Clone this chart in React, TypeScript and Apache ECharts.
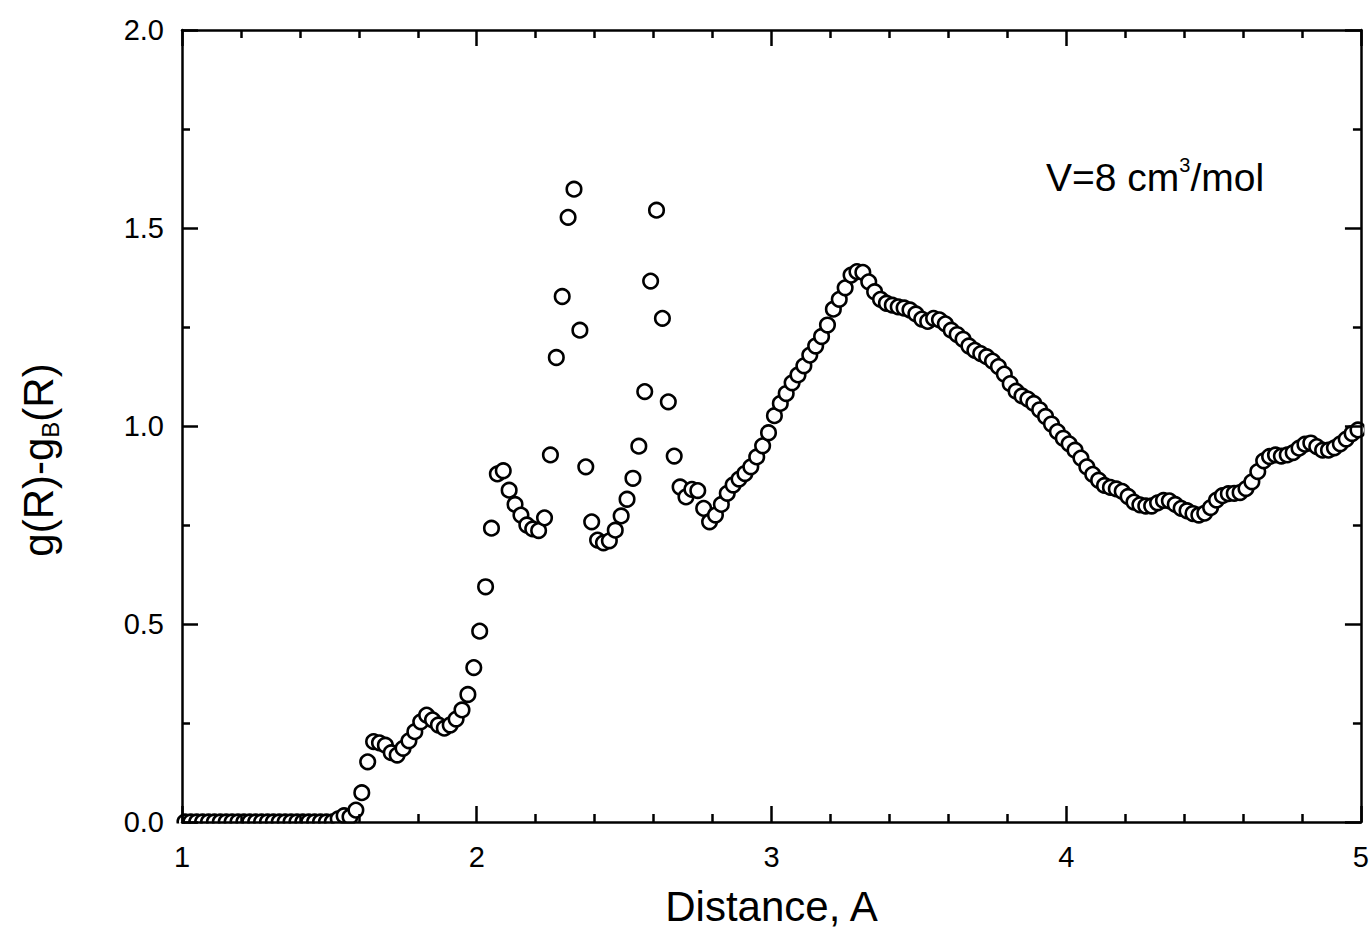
import React, { useEffect, useRef } from 'react';
import * as echarts from 'echarts';

// Distance R (Angstrom) sampled by the reference data
const distance = [
  1.01, 1.03, 1.05, 1.07, 1.09, 1.11, 1.13, 1.15, 1.17, 1.19,
  1.21, 1.23, 1.25, 1.27, 1.29, 1.31, 1.33, 1.35, 1.37, 1.39,
  1.41, 1.43, 1.45, 1.47, 1.49, 1.51, 1.53, 1.55, 1.57, 1.59,
  1.61, 1.63, 1.65, 1.67, 1.69, 1.71, 1.73, 1.75, 1.77, 1.79,
  1.81, 1.83, 1.85, 1.87, 1.89, 1.91, 1.93, 1.95, 1.97, 1.99,
  2.01, 2.03, 2.05, 2.07, 2.09, 2.11, 2.13, 2.15, 2.17, 2.19,
  2.21, 2.23, 2.25, 2.27, 2.29, 2.31, 2.33, 2.35, 2.37, 2.39,
  2.41, 2.43, 2.45, 2.47, 2.49, 2.51, 2.53, 2.55, 2.57, 2.59,
  2.61, 2.63, 2.65, 2.67, 2.69, 2.71, 2.73, 2.75, 2.77, 2.79,
  2.81, 2.83, 2.85, 2.87, 2.89, 2.91, 2.93, 2.95, 2.97, 2.99,
  3.01, 3.03, 3.05, 3.07, 3.09, 3.11, 3.13, 3.15, 3.17, 3.19,
  3.21, 3.23, 3.25, 3.27, 3.29, 3.31, 3.33, 3.35, 3.37, 3.39,
  3.41, 3.43, 3.45, 3.47, 3.49, 3.51, 3.53, 3.55, 3.57, 3.59,
  3.61, 3.63, 3.65, 3.67, 3.69, 3.71, 3.73, 3.75, 3.77, 3.79,
  3.81, 3.83, 3.85, 3.87, 3.89, 3.91, 3.93, 3.95, 3.97, 3.99,
  4.01, 4.03, 4.05, 4.07, 4.09, 4.11, 4.13, 4.15, 4.17, 4.19,
  4.21, 4.23, 4.25, 4.27, 4.29, 4.31, 4.33, 4.35, 4.37, 4.39,
  4.41, 4.43, 4.45, 4.47, 4.49, 4.51, 4.53, 4.55, 4.57, 4.59,
  4.61, 4.63, 4.65, 4.67, 4.69, 4.71, 4.73, 4.75, 4.77, 4.79,
  4.81, 4.83, 4.85, 4.87, 4.89, 4.91, 4.93, 4.95, 4.97, 4.99,
];

// g(R) - g_B(R)
const gDiff = [
  0, 0, 0, 0, 0, 0, 0, 0, 0, 0,
  0, 0, 0, 0, 0, 0, 0, 0, 0, 0,
  0, 0, 0, 0, 0, 0, 0.008, 0.016, 0.013, 0.03,
  0.074, 0.152, 0.203, 0.2, 0.194, 0.175, 0.169, 0.186, 0.205, 0.228,
  0.253, 0.27, 0.258, 0.245, 0.237, 0.245, 0.26, 0.283, 0.322, 0.39,
  0.482, 0.594, 0.742, 0.879, 0.887, 0.838, 0.802, 0.775, 0.75, 0.74,
  0.736, 0.768, 0.927, 1.173, 1.327, 1.527, 1.598, 1.242, 0.897, 0.758,
  0.712, 0.705, 0.71, 0.737, 0.773, 0.815, 0.868, 0.949, 1.087, 1.366,
  1.545, 1.272, 1.061, 0.924, 0.846, 0.821, 0.84, 0.837, 0.792, 0.758,
  0.775, 0.802, 0.83, 0.851, 0.866, 0.88, 0.897, 0.922, 0.95, 0.983,
  1.026, 1.057, 1.082, 1.109, 1.129, 1.152, 1.179, 1.202, 1.226, 1.255,
  1.295, 1.32, 1.349, 1.381, 1.39, 1.388, 1.364, 1.339, 1.32, 1.31,
  1.305, 1.301, 1.298, 1.293, 1.283, 1.27, 1.264, 1.272, 1.268, 1.258,
  1.242, 1.231, 1.219, 1.202, 1.191, 1.183, 1.175, 1.164, 1.15, 1.131,
  1.107, 1.088, 1.076, 1.068, 1.057, 1.041, 1.024, 1.005, 0.986, 0.969,
  0.955, 0.939, 0.919, 0.897, 0.878, 0.863, 0.85, 0.845, 0.841, 0.835,
  0.822, 0.808, 0.801, 0.798, 0.798, 0.806, 0.812, 0.811, 0.802, 0.792,
  0.786, 0.779, 0.775, 0.78, 0.794, 0.813, 0.824, 0.829, 0.83, 0.832,
  0.842, 0.859, 0.885, 0.912, 0.923, 0.927, 0.924, 0.927, 0.933, 0.944,
  0.954, 0.957, 0.948, 0.939, 0.939, 0.945, 0.955, 0.967, 0.981, 0.99,
];

const xRange = [1, 5];
const yRange = [0, 2];
const xTickStep = 1;
const yTickStep = 0.5;

export default function App() {
  const ref = useRef<HTMLDivElement>(null);

  useEffect(() => {
    if (!ref.current) return;
    const chart = echarts.init(ref.current, null, { renderer: 'svg' });
    const font = "'Liberation Sans', Arial, Helvetica, sans-serif";
    const lineStyle = { color: '#000', width: 2.5 };
    const tick = { show: true, inside: true, length: 16, lineStyle };
    const minorX = { show: true, splitNumber: 5, length: 8, lineStyle };
    const minorY = { show: true, splitNumber: 2, length: 8, lineStyle };
    const labelStyle = { color: '#000', fontSize: 29, fontFamily: font };

    const baseX = {
      type: 'value',
      min: xRange[0],
      max: xRange[1],
      interval: xTickStep,
      axisLine: { show: true, onZero: false, lineStyle },
      axisTick: tick,
      minorTick: minorX,
      splitLine: { show: false },
      z: 10,
    };
    const baseY = {
      type: 'value',
      min: yRange[0],
      max: yRange[1],
      interval: yTickStep,
      axisLine: { show: true, onZero: false, lineStyle },
      axisTick: tick,
      minorTick: minorY,
      splitLine: { show: false },
      z: 10,
    };

    chart.setOption({
      animation: false,
      backgroundColor: '#fff',
      grid: { left: 182, right: 9, top: 30, bottom: 118, containLabel: false },
      xAxis: [
        {
          ...baseX,
          position: 'bottom',
          name: 'Distance, A',
          nameLocation: 'middle',
          nameGap: 63,
          nameTextStyle: { color: '#000', fontSize: 42, fontFamily: font },
          axisLabel: { ...labelStyle, margin: 20 },
        },
        { ...baseX, position: 'top', axisLabel: { show: false } },
      ],
      yAxis: [
        {
          ...baseY,
          position: 'left',
          axisLabel: {
            ...labelStyle,
            margin: 18,
            formatter: (v: number) => v.toFixed(1),
          },
        },
        { ...baseY, position: 'right', axisLabel: { show: false } },
      ],
      graphic: [
        {
          type: 'rect',
          z: 5,
          silent: true,
          shape: { x: 150, y: 823.4, width: 1222, height: 14 },
          style: { fill: '#fff' },
        },
        {
          type: 'rect',
          z: 5,
          silent: true,
          shape: { x: 1364.4, y: 0, width: 10, height: 940 },
          style: { fill: '#fff' },
        },
        {
          type: 'text',
          z: 6,
          x: 38,
          y: 460,
          rotation: Math.PI / 2,
          style: {
            text: '{a|g(R)-g}{b|B}{a|(R)}',
            align: 'center',
            verticalAlign: 'middle',
            fill: '#000',
            font: `42px ${font}`,
            rich: {
              a: { fontSize: 42, fontFamily: font, lineHeight: 48, fill: '#000' },
              b: { fontSize: 24, fontFamily: font, lineHeight: 30, verticalAlign: 'bottom', fill: '#000' },
            },
          },
        },
        {
          type: 'text',
          z: 6,
          left: 1046,
          top: 155,
          style: {
            text: '{a|V=8 cm}{s|3}{a|/mol}',
            fill: '#000',
            font: `39px ${font}`,
            rich: {
              a: { fontSize: 39, fontFamily: font, lineHeight: 44, fill: '#000' },
              s: { fontSize: 20, fontFamily: font, lineHeight: 30, verticalAlign: 'top', fill: '#000' },
            },
          },
        },
      ],
      series: [
        {
          type: 'scatter',
          xAxisIndex: 0,
          yAxisIndex: 0,
          symbol: 'circle',
          symbolSize: 14.5,
          clip: false,
          itemStyle: { color: '#fff', borderColor: '#000', borderWidth: 2.6, opacity: 1 },
          emphasis: { disabled: true },
          data: distance.map((d, i) => [d, gDiff[i]]),
        },
      ],
    });

    return () => chart.dispose();
  }, []);

  return (
    <div
      ref={ref}
      style={{ position: 'fixed', left: 0, top: 0, width: 1372, height: 940, background: '#fff' }}
    />
  );
}
